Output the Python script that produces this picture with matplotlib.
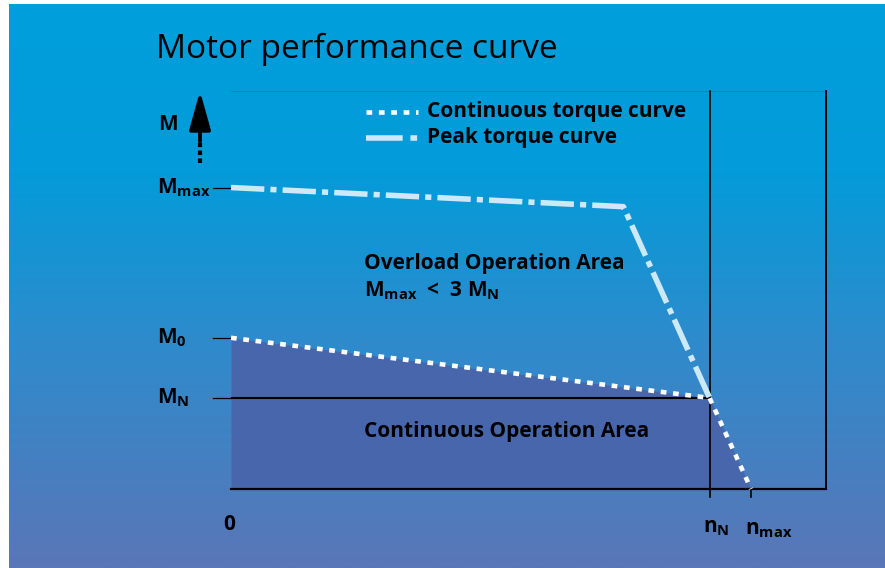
import numpy as np
import matplotlib.pyplot as plt
from matplotlib import transforms
from matplotlib.colors import LinearSegmentedColormap

plt.rcParams['font.family'] = ['Open Sans', 'DejaVu Sans']
plt.rcParams['mathtext.fontset'] = 'custom'
plt.rcParams['mathtext.rm'] = 'Open Sans'
plt.rcParams['mathtext.bf'] = 'Open Sans:bold'

# speed (rpm) and torque (Nm) of the schematic
n_N = 3000
n_max = 3260
n_box = 3730
M_top = 43.7
M_N = 10.0
M_0 = 16.6
M_max = 33.1

cont_speed = [0, n_N, n_max]
cont_torque = [M_0, M_N, 0]
peak_speed = [0, 2460, n_N]
peak_torque = [M_max, 31.0, M_N]

W, H = 885, 568
fig = plt.figure(figsize=(W / 100, H / 100), dpi=100)
fig.patch.set_facecolor('white')

# background gradient, coordinates in pixels
bg = fig.add_axes([0, 0, 1, 1])
bg.set_xlim(0, W)
bg.set_ylim(H, 0)
bg.axis('off')
cmap = LinearSegmentedColormap.from_list(
    'bg', [(0, '#009fdc'), (0.3, '#049bd9'), (0.6, '#2e8bcc'), (1, '#5a76b7')])
grad = np.linspace(0, 1, 256).reshape(-1, 1)
bg.imshow(grad, cmap=cmap, extent=(9, W, H, 4), aspect='auto', zorder=0)

ax = fig.add_axes([231 / W, 1 - 489 / H, 595 / W, 398 / H])
ax.set_xlim(0, n_box)
ax.set_ylim(0, M_top)
ax.axis('off')
ax.patch.set_alpha(0)

# continuous operation area
ax.fill_between(cont_speed, cont_torque, 0, color='#4866ab', lw=0, zorder=1)

# frame lines
ax.plot([0, n_box], [M_top, M_top], color='#1683bf', lw=0.8, zorder=2)
ax.plot([0, n_box], [0, 0], color='black', lw=1.6, zorder=2, clip_on=False)
ax.plot([n_box, n_box], [0, M_top], color='black', lw=1.4, zorder=2, clip_on=False)
ax.plot([n_N, n_N], [-0.9, M_top], color='black', lw=1.2, zorder=2, clip_on=False)
ax.plot([n_max, n_max], [-0.9, 0], color='black', lw=1.2, zorder=2, clip_on=False)
ax.plot([0, n_N], [M_N, M_N], color='black', lw=1.5, zorder=2)

# torque curves
ax.plot(peak_speed, peak_torque, color='#cde9f8', lw=4, dashes=(6, 1.1, 1.1, 1.1),
        solid_capstyle='butt', dash_capstyle='butt', zorder=3, clip_on=False)
ax.plot(cont_speed, cont_torque, color='white', lw=3.3, dashes=(1.25, 1.45),
        dash_capstyle='butt', zorder=4, clip_on=False)

# level ticks and labels on the left
mix = transforms.blended_transform_factory(bg.transData, ax.transData)
levels = [(M_max, r'$\mathbf{M_{max}}$'), (M_0, r'$\mathbf{M_{0}}$'), (M_N, r'$\mathbf{M_{N}}$')]
for lev, lab in levels:
    ax.plot([213, 231], [lev, lev], color='black', lw=0.9, transform=mix, clip_on=False)
    ax.text(157, lev, lab, transform=mix, fontsize=15, va='center', ha='left')

# speed labels
ax.text(229, 525, '0', transform=bg.transData, fontsize=15, fontweight='bold',
        ha='center', va='center')
ax.text(703, 528, r'$\mathbf{n_{N}}$', transform=bg.transData, fontsize=15,
        ha='left', va='center')
ax.text(745, 530, r'$\mathbf{n_{max}}$', transform=bg.transData, fontsize=15,
        ha='left', va='center')

# M axis arrow
bg.plot([200, 200], [163, 141], color='black', lw=3.0, dashes=(1.1, 0.8))
bg.annotate('', xy=(200, 91), xytext=(200, 141),
            arrowprops=dict(arrowstyle='-|>,head_length=0.9,head_width=0.25',
                            color='black', lw=2.8,
                            mutation_scale=26, shrinkA=0, shrinkB=0))
bg.text(158, 124, 'M', fontsize=15, fontweight='bold', va='center', ha='left')

# title
bg.text(156, 58, 'Motor performance curve', fontsize=24, va='baseline', ha='left')

# legend
bg.plot([366, 418], [112, 112], color='white', lw=3.3, dashes=(1.25, 1.45),
        dash_capstyle='butt')
bg.plot([366, 418], [138, 138], color='#cde9f8', lw=4, dashes=(6.6, 1.4, 1.2, 1.4),
        dash_capstyle='butt')
bg.text(427, 111, 'Continuous torque curve', fontsize=15, fontweight='bold', va='center')
bg.text(427, 137, 'Peak torque curve', fontsize=15, fontweight='bold', va='center')

# area labels
ax.text(364, 264, 'Overload Operation Area', transform=bg.transData, fontsize=15,
        fontweight='bold', va='center', zorder=6)
ax.text(364, 291, r'$\mathbf{M_{max}}$  <  3 $\mathbf{M_{N}}$', transform=bg.transData,
        fontsize=15, fontweight='bold', va='center', zorder=6)
ax.text(364, 431, 'Continuous Operation Area', transform=bg.transData, fontsize=15,
        fontweight='bold', va='center', zorder=6)

fig.savefig('out.png', dpi=100)
